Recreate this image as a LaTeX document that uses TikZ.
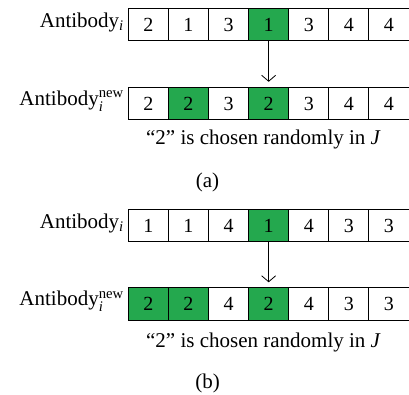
\documentclass[tikz,border=0pt]{standalone}
\usepackage{amsmath}
\usepackage{fontspec}
\setmainfont{Liberation Serif}
\usetikzlibrary{arrows.meta}
\definecolor{cellgreen}{HTML}{24A84E}
\tikzset{
  cell/.style={draw, line width=0.9pt, minimum width=40.1pt, minimum height=32.5pt, inner sep=0pt, font=\fontsize{20}{24}\selectfont},
  hl/.style={cell, fill=cellgreen},
  lab/.style={font=\fontsize{21}{25}\selectfont, anchor=east, inner sep=0pt},
  txt/.style={font=\fontsize{21}{25}\selectfont, inner sep=0pt},
  arr/.style={line width=0.8pt, -{Straight Barb[length=6pt,width=14pt]}, shorten >=5pt}
}
\begin{document}
\begin{tikzpicture}[x=1pt,y=-1pt]
\useasboundingbox (0,0) rectangle (409,394);
% (a)
\foreach \v/\s [count=\k from 0] in {2/cell,1/cell,3/cell,1/hl,3/cell,4/cell,4/cell}
  \node[\s] (a1-\k) at ({148.35+40.1*\k},24.5) {\v};
\foreach \v/\s [count=\k from 0] in {2/cell,2/hl,3/cell,2/hl,3/cell,4/cell,4/cell}
  \node[\s] (a2-\k) at ({148.35+40.1*\k},103.5) {\v};
\node[lab] (la1) at (124,22) {Antibody$_{\text{\textit{i}}}$};
\node[lab] (la2) at (124,101) {Antibody$^{\text{new}}_{\text{\textit{i}}}$};
\draw[arr] (a1-3.south) -- (a2-3.north);
\node[txt] (ca) at (263.5,139) {“2” is chosen randomly in \textit{J}};
\node[txt] (sa) at (207.5,182) {(a)};
% (b)
\foreach \v/\s [count=\k from 0] in {1/cell,1/cell,4/cell,1/hl,4/cell,3/cell,3/cell}
  \node[\s] (b1-\k) at ({148.35+40.1*\k},225.5) {\v};
\foreach \v/\s [count=\k from 0] in {2/hl,2/hl,4/cell,2/hl,4/cell,3/cell,3/cell}
  \node[\s] (b2-\k) at ({148.35+40.1*\k},304) {\v};
\node[lab] (lb1) at (124,223) {Antibody$_{\text{\textit{i}}}$};
\node[lab] (lb2) at (124,301.5) {Antibody$^{\text{new}}_{\text{\textit{i}}}$};
\draw[arr] (b1-3.south) -- (b2-3.north);
\node[txt] (cb) at (263.5,342) {“2” is chosen randomly in \textit{J}};
\node[txt] (sb) at (207.5,383) {(b)};
\end{tikzpicture}
\end{document}
